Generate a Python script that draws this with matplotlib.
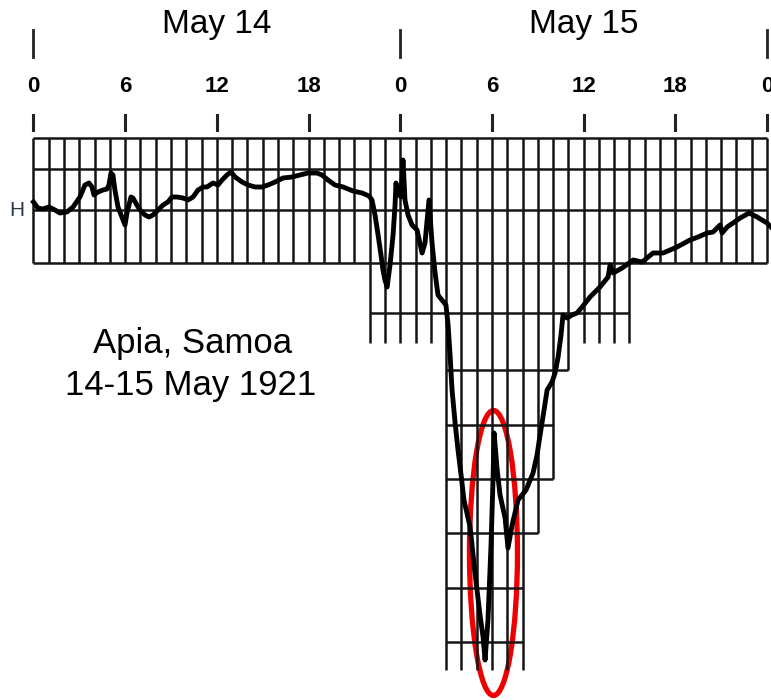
import matplotlib.pyplot as plt
from matplotlib.patches import Ellipse

plt.rcParams['font.family'] = ['Liberation Sans', 'DejaVu Sans']

# H trace, Apia 14-15 May 1921 (hours from 00h May 14, deflection in chart units)
hours = [0.0, 0.29, 0.62, 1.01, 1.41, 1.73, 2.19, 2.59, 3.04, 3.37, 3.63, 3.83, 3.96,
         4.22, 4.55, 4.81, 4.94, 5.07, 5.20, 5.33, 5.53, 5.86, 5.99, 6.12, 6.38, 6.51,
         6.77, 6.97, 7.30, 7.56, 7.82, 8.15, 8.48, 8.80, 9.06, 9.39, 9.78, 10.11, 10.44,
         10.77, 11.09, 11.35, 11.75, 12.07, 12.34, 12.66, 12.93, 13.19, 13.65, 14.04,
         14.50, 14.95, 15.35, 15.81, 16.33, 16.92, 17.44, 17.96, 18.55, 18.88, 19.27,
         19.73, 20.26, 20.91, 21.50, 21.96, 22.15, 22.35, 22.55, 22.74, 22.87, 23.00,
         23.14, 23.33, 23.53, 23.66, 23.72, 23.85, 24.05, 24.18, 24.31, 24.51, 24.77,
         25.10, 25.43, 25.62, 25.88, 26.08, 26.28, 26.47, 26.73, 26.99, 27.13, 27.26,
         27.39, 27.59, 27.78, 27.98, 28.17, 28.57, 28.89, 29.22, 29.42, 29.55, 29.74,
         29.94, 30.07, 30.14, 30.33, 30.53, 30.86, 31.05, 31.32, 31.71, 32.23, 32.69,
         32.95, 33.15, 33.41, 33.61, 33.93, 34.13, 34.33, 34.52, 34.65, 34.91, 35.24,
         35.57, 35.90, 36.42, 37.07, 37.60, 37.73, 37.93, 38.52, 39.24, 39.83, 40.54,
         41.20, 42.11, 42.96, 43.49, 44.08, 44.47, 44.93, 45.06, 45.39, 45.78, 46.24,
         46.83, 47.35, 48.00, 48.26]
h_trace = [8, 2, 1, 3, 0, -3, -2, 3, 13, 25, 27, 23, 15,
           18, 20, 21, 25, 37, 35, 20, 3, -10, -15, -3, 13, 12,
           5, 0, -5, -7, -5, 0, 5, 8, 13, 13, 12, 10, 13,
           20, 23, 23, 27, 25, 30, 35, 38, 33, 28, 25,
           23, 23, 25, 28, 32, 33, 35, 37, 37, 35, 30,
           25, 23, 19, 17, 14, 10, -5, -25, -45, -60, -70,
           -77, -55, -25, 5, 27, 17, 13, 50, 10, -5, -15,
           -20, -43, -33, 10, -33, -63, -85, -90, -95, -115, -145,
           -180, -213, -240, -265, -290, -317, -363, -405, -427, -450, -410,
           -335, -270, -223, -258, -285, -308, -338, -315, -290, -280, -263,
           -245, -225, -200, -180, -172, -163, -147, -125, -105, -108, -105,
           -103, -97, -87, -77, -67, -55, -63, -58, -50, -52, -43,
           -43, -37, -30, -27, -23, -22, -15, -23, -17, -13, -8,
           -3, -7, -13, -17]

# stepped chart-paper grid
row_levels = [72, 41, 0, -53, -103, -160, -215, -269, -323, -378, -432]
row_start = [0, 0, 0, 0, 22, 27, 27, 27, 27, 27, 27]
row_end = [48, 48, 48, 48, 39, 35, 34, 34, 33, 32, 32]
col_groups = [(0, 21, -53), (22, 26, -133), (27, 32, -460), (33, 33, -323),
              (34, 34, -269), (35, 35, -160), (36, 39, -133), (40, 48, -53)]

day_labels = ['May 14', 'May 15']
day_centres = [12, 36]
day_bounds = [0, 24, 48]
hour_ticks = [0, 6, 12, 18, 24, 30, 36, 42, 48]
hour_labels = ['0', '6', '12', '18', '0', '6', '12', '18', '0']

fig = plt.figure(figsize=(7.71, 7.0), dpi=100)
ax = fig.add_axes([0, 0, 1, 1])
ax.set_xlim(-2.19, 48.26)
ax.set_ylim(-490, 210)
ax.axis('off')

grid_col = '#151515'
for lev, a, b in zip(row_levels, row_start, row_end):
    ax.plot([a, b], [lev, lev], color=grid_col, lw=1.8, solid_capstyle='butt')
for a, b, bottom in col_groups:
    for h in range(a, b + 1):
        ax.plot([h, h], [72, bottom], color=grid_col, lw=1.8, solid_capstyle='butt')

ax.plot(hours, h_trace, color='black', lw=3.5, solid_joinstyle='round', clip_on=False)

# time axis on top
for d in day_bounds:
    ax.plot([d, d], [180, 153], color='#222222', lw=2.0)
for t, lab in zip(hour_ticks, hour_labels):
    ax.plot([t, t], [95, 80], color='#222222', lw=2.2)
    ax.text(t, 124, lab, ha='center', va='center', fontsize=16, fontweight='bold')
for c, lab in zip(day_centres, day_labels):
    ax.text(c, 185, lab, ha='center', va='center', fontsize=24)

ax.text(-1.08, 0, 'H', ha='center', va='center', fontsize=15, color='#2b3a4a')
ax.text(10.4, -133, 'Apia, Samoa', ha='center', va='center', fontsize=25)
ax.text(10.3, -175, '14-15 May 1921', ha='center', va='center', fontsize=25)

ax.add_patch(Ellipse((30.1, -343), 3.14, 285, fill=False, edgecolor='#ee0000', lw=3.8))

fig.savefig('out.png', dpi=100)
